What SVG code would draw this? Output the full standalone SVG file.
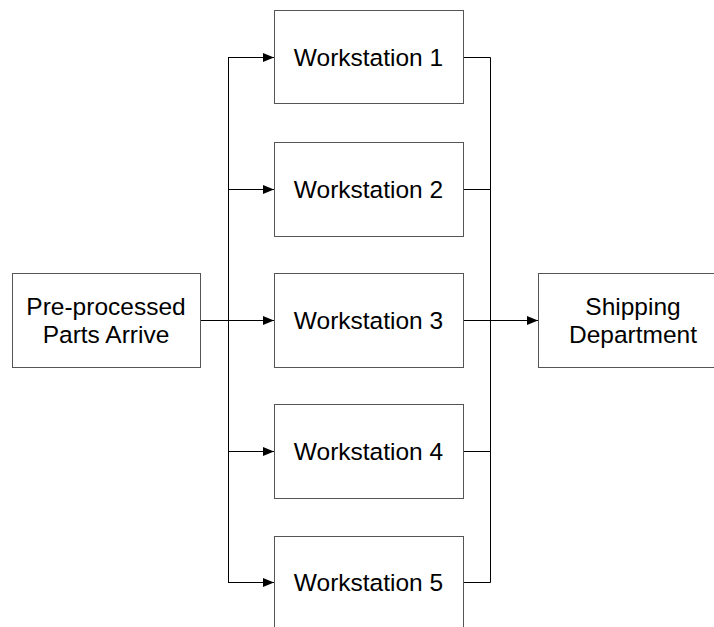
<svg xmlns="http://www.w3.org/2000/svg" width="714" height="627" viewBox="0 0 714 627">
<style>
.box{fill:#fff;stroke:#555;stroke-width:1}
.t{font-family:"Liberation Sans",Arial,sans-serif;font-size:24.5px;fill:#000;text-anchor:middle}
.c{fill:none;stroke:#000;stroke-width:1}
</style>
<defs>
<marker id="ah" markerWidth="11" markerHeight="9" refX="11" refY="4.5" orient="auto" markerUnits="userSpaceOnUse">
<path d="M0,0 L11,4.5 L0,9 Z" fill="#000"/>
</marker>
</defs>
<rect width="714" height="627" fill="#fff"/>
<g id="connectors">
<path class="c" d="M228.5,57.5 V582.5"/>
<path class="c" d="M200,320.5 H228"/>
<path class="c" d="M228,57.5 H274" marker-end="url(#ah)"/>
<path class="c" d="M228,189.5 H274" marker-end="url(#ah)"/>
<path class="c" d="M228,320.5 H274" marker-end="url(#ah)"/>
<path class="c" d="M228,451.5 H274" marker-end="url(#ah)"/>
<path class="c" d="M228,582.5 H274" marker-end="url(#ah)"/>
<path class="c" d="M463,57.5 H490.5 V582.5 H463"/>
<path class="c" d="M463,189.5 H490"/>
<path class="c" d="M463,451.5 H490"/>
<path class="c" d="M463,320.5 H538" marker-end="url(#ah)"/>
</g>
<g id="start">
<rect class="box" x="12.5" y="273.5" width="188" height="94"/>
<text class="t" x="106" y="315">Pre-processed</text>
<text class="t" x="106" y="343">Parts Arrive</text>
</g>
<g id="ws1">
<rect class="box" x="274.5" y="10.5" width="189" height="93"/>
<text class="t" x="368.5" y="65.5">Workstation 1</text>
</g>
<g id="ws2">
<rect class="box" x="274.5" y="142.5" width="189" height="94"/>
<text class="t" x="368.5" y="198">Workstation 2</text>
</g>
<g id="ws3">
<rect class="box" x="274.5" y="273.5" width="189" height="94"/>
<text class="t" x="368.5" y="329">Workstation 3</text>
</g>
<g id="ws4">
<rect class="box" x="274.5" y="404.5" width="189" height="94"/>
<text class="t" x="368.5" y="460">Workstation 4</text>
</g>
<g id="ws5">
<rect class="box" x="274.5" y="536.5" width="189" height="94"/>
<text class="t" x="368.5" y="591">Workstation 5</text>
</g>
<g id="shipping">
<rect class="box" x="538.5" y="273.5" width="188" height="94"/>
<text class="t" x="633" y="315">Shipping</text>
<text class="t" x="633" y="343">Department</text>
</g>
</svg>
